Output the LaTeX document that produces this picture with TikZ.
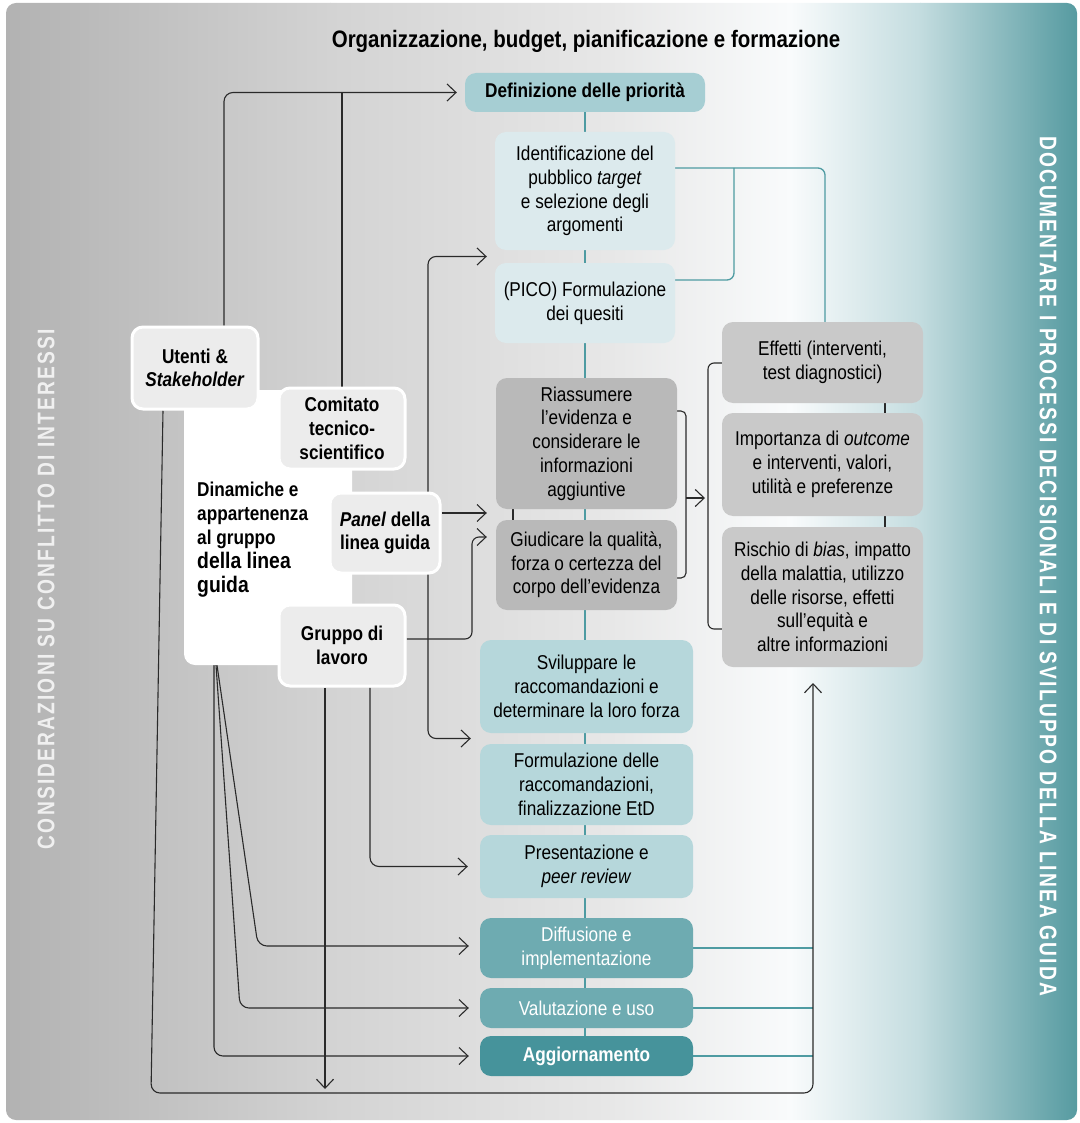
\documentclass[tikz,border=0pt]{standalone}
\usepackage{fontspec}
\setmainfont{Liberation Sans}[FakeStretch=0.86]
\newfontfamily\sidefont{Liberation Sans Bold}[FakeStretch=0.8,LetterSpace=9]
\usetikzlibrary{arrows.meta,calc}
\pgfdeclarelayer{bgfill}\pgfdeclarelayer{back}
\pgfsetlayers{bgfill,back,main}
\definecolor{tealline}{HTML}{4E9BA2}
\definecolor{tDef}{HTML}{A6CED3}
\definecolor{tLight}{HTML}{DCEAED}
\definecolor{tMid}{HTML}{B6D7DB}
\definecolor{tDark}{HTML}{6EABB1}
\definecolor{tDarker}{HTML}{46939B}
\definecolor{gBox}{HTML}{B9B9B9}
\definecolor{gRight}{HTML}{C9C9C9}
\definecolor{gLeft}{HTML}{ECECEC}
\definecolor{lineC}{HTML}{2A2A2A}
\definecolor{bgA}{HTML}{B2B2B2}
\definecolor{bgB}{HTML}{D3D3D3}
\definecolor{bgC}{HTML}{E8E8E8}
\definecolor{bgD}{HTML}{F9FBFC}
\definecolor{bgE}{HTML}{C3DCDF}
\definecolor{bgF}{HTML}{559AA0}
\tikzset{
  box/.style={rounded corners=11pt, align=center, inner sep=0pt, text=black,
    font=\fontsize{20}{23.7}\selectfont},
  flow/.style={box, fill=tLight},
  flowmid/.style={box, fill=tMid},
  flowdark/.style={box, fill=tDark, text=white},
  graybox/.style={box, fill=gBox},
  rgray/.style={box, fill=gRight},
  lbox/.style={box, fill=gLeft, draw=white, line width=3pt,
    font=\fontsize{20}{23.7}\selectfont\bfseries},
  conn/.style={draw=lineC, line width=1.1pt},
  arr/.style={conn, -{Straight Barb[length=9pt,width=17pt,line width=1.1pt]}},
  arrboth/.style={conn, {Straight Barb[length=9pt,width=17pt,line width=1.1pt]}-{Straight Barb[length=9pt,width=17pt,line width=1.1pt]}},
  tconn/.style={draw=tealline, line width=1.3pt},
  side/.style={text=white, font=\sidefont\fontsize{24}{26}\selectfont, inner sep=0pt}
}
\begin{document}
\begin{tikzpicture}[x=1pt,y=-1pt]
\useasboundingbox (0,0) rectangle (1079,1123);
% ---- nodes
\node[box, font=\fontsize{23.8}{28}\selectfont\bfseries] (title) at (586,41) {Organizzazione, budget, pianificazione e formazione};
\node[box, fill=tDef, minimum width=240pt, minimum height=39pt, font=\fontsize{20}{23.7}\selectfont\bfseries] (def) at (585,92.5) {Definizione delle priorità};
\node[flow, minimum width=180pt, minimum height=118pt] (ident) at (585,191) {Identificazione del\\pubblico \textit{target}\\e selezione degli\\argomenti};
\node[flow, minimum width=180pt, minimum height=80pt] (pico) at (585,303) {(PICO) Formulazione\\dei quesiti};
\node[graybox, minimum width=181pt, minimum height=131pt] (riass) at (586.5,443.5) {Riassumere\\l’evidenza e\\considerare le\\informazioni\\aggiuntive};
\node[graybox, minimum width=181pt, minimum height=90pt] (giud) at (586.5,565) {Giudicare la qualità,\\forza o certezza del\\corpo dell’evidenza};
\node[flowmid, minimum width=213pt, minimum height=93pt] (svil) at (586.5,686.5) {Sviluppare le\\raccomandazioni e\\determinare la loro forza};
\node[flowmid, minimum width=213pt, minimum height=81pt] (form) at (586.5,784.5) {Formulazione delle\\raccomandazioni,\\finalizzazione EtD};
\node[flowmid, minimum width=213pt, minimum height=63pt] (pres) at (586.5,866.5) {Presentazione e\\\textit{peer review}};
\node[flowdark, minimum width=213pt, minimum height=60pt] (diff) at (586.5,948) {Diffusione e\\implementazione};
\node[flowdark, minimum width=213pt, minimum height=40pt] (valu) at (586.5,1008) {Valutazione e uso};
\node[flowdark, fill=tDarker, minimum width=213pt, minimum height=40pt, font=\fontsize{20}{23.7}\selectfont\bfseries] (aggi) at (586.5,1056) {Aggiornamento};
\node[rgray, minimum width=201pt, minimum height=81pt] (eff) at (822.5,362.5) {Effetti (interventi,\\test diagnostici)};
\node[rgray, minimum width=201pt, minimum height=103pt] (imp) at (822.5,464.5) {Importanza di \textit{outcome}\\e interventi, valori,\\utilità e preferenze};
\node[rgray, minimum width=201pt, minimum height=140pt] (risc) at (822.5,597) {Rischio di \textit{bias}, impatto\\della malattia, utilizzo\\delle risorse, effetti\\sull’equità e\\altre informazioni};
% left group
\node[box, fill=white, minimum width=168pt, minimum height=275pt] (din) at (268,527.5) {};
\node[anchor=west, align=left, inner sep=0pt, font=\fontsize{20}{24}\selectfont\bfseries] (dintxt) at (197,540) {Dinamiche e\\appartenenza\\al gruppo\\\fontsize{22.5}{25.5}\selectfont della linea\\\fontsize{22.5}{25.5}\selectfont guida};
\node[lbox, minimum width=126pt, minimum height=82pt] (ut) at (195,368) {Utenti \&\\\textit{Stakeholder}};
\node[lbox, minimum width=126pt, minimum height=81pt] (com) at (342,428.5) {Comitato\\tecnico-\\scientifico};
\node[lbox, minimum width=110pt, minimum height=80pt] (pan) at (385,533) {\textit{Panel} della\\linea guida};
\node[lbox, minimum width=126pt, minimum height=81pt] (grp) at (342,645.5) {Gruppo di\\lavoro};
% side texts
\node[side, rotate=90, text=white!94!black] (lside) at (46,589) {CONSIDERAZIONI SU CONFLITTO DI INTERESSI};
\node[side, rotate=-90] (rside) at (1048,566) {DOCUMENTARE I PROCESSI DECISIONALI E DI SVILUPPO DELLA LINEA GUIDA};
% ---- helper coordinates
\coordinate (riassL) at ([xshift=-9pt]riass.west);
\coordinate (a1) at ([xshift=-8pt]$(ident.south west)!0.5!(pico.north west)$);
\coordinate (a2) at ([xshift=-9pt]$(svil.south west)!0.5!(form.north west)$);
\coordinate (xline) at (428,0);
\coordinate (g1) at (472,537);
\coordinate (rb) at (813,683);
\coordinate (bl) at (151,1093);
\coordinate (gd) at (325,1089);
\coordinate (c1) at (825,168);
\coordinate (p1) at (734,280);
\coordinate (lb1) at (686,411);
\coordinate (lb2) at (686,578);
\coordinate (lbm) at (686,498);
\coordinate (lbt) at (705,498);
\coordinate (rk1) at (708,363);
\coordinate (rk2) at (708,629);
\coordinate (d1) at (258,946);
\coordinate (d2) at (240,1008);
\coordinate (d3) at (214,1056);
% ---- background
\begin{pgfonlayer}{bgfill}
\begin{scope}
\clip[rounded corners=10pt] (6,3) rectangle (1077,1120);
\shade[left color=bgA, right color=bgB] (5,0) rectangle (331,1123);
\shade[left color=bgB, right color=bgC] (330,0) rectangle (621,1123);
\shade[left color=bgC, right color=bgD] (620,0) rectangle (791,1123);
\shade[left color=bgD, right color=bgE] (790,0) rectangle (921,1123);
\shade[left color=bgE, right color=bgF] (920,0) rectangle (1079,1123);
\end{scope}
\end{pgfonlayer}
% ---- connectors
\begin{pgfonlayer}{back}
\draw[tconn] (def.south) -- (def.south |- aggi.north);
\draw[tconn, rounded corners=7pt] (ident.east |- c1) -- (c1) -- (c1 |- eff.north);
\draw[tconn, rounded corners=7pt] (pico.east |- p1) -- (p1) -- (p1 |- c1);
\draw[tconn] (diff.east) -- (diff.east -| rb);
\draw[tconn] (valu.east) -- (valu.east -| rb);
\draw[tconn] (aggi.east) -- (aggi.east -| rb);
% black
\draw[arr, rounded corners=9pt] ([xshift=29pt]ut.north) |- ([xshift=-8pt]def.west);
\draw[conn] (com.north) -- (com.north |- def.west);
\draw[arr] ([yshift=20pt]pan.east) -- ([yshift=20pt]pan.east -| riassL);
\draw[arrboth, rounded corners=8pt] (a1) -- (a1 -| xline) -- (a2 -| xline) -- (a2);
\draw[arr, rounded corners=7pt] ([yshift=6.5pt]grp.east) -- ([yshift=6.5pt]grp.east -| g1) -- (g1) -- (g1 -| riassL);
\draw[arr] (grp.south -| gd) -- (gd);
\draw[arr, rounded corners=9pt] ([xshift=28pt]grp.south) |- ([xshift=-12pt]pres.west);
\draw[arr, rounded corners=9pt] ([xshift=-51pt]din.south) -- (d1) -- ([xshift=-11pt]diff.west |- d1);
\draw[arr, rounded corners=9pt] ([xshift=-52pt]din.south) -- (d2) -- ([xshift=-11pt]valu.west);
\draw[arr, rounded corners=9pt] ([xshift=-54pt]din.south) -- (d3) -- ([xshift=-11pt]aggi.west);
\draw[arr, rounded corners=9pt] ([xshift=-32pt]ut.south) -- (bl) -- (rb |- bl) -- (rb);
\draw[conn, rounded corners=5pt] (riass.east |- lb1) -- (lb1) -- (lb2) -- (giud.east |- lb2);
\draw[arr] (lbm) -- (lbt);
\draw[conn, rounded corners=6pt] (eff.west |- rk1) -- (rk1) -- (rk2) -- (risc.west |- rk2);
\draw[conn] (eff.south -| 885,0) -- (imp.north -| 885,0);
\draw[conn] (imp.south -| 885,0) -- (risc.north -| 885,0);
\draw[conn] (riass.south -| 513,0) -- (giud.north -| 513,0);
\end{pgfonlayer}
\end{tikzpicture}
\end{document}
